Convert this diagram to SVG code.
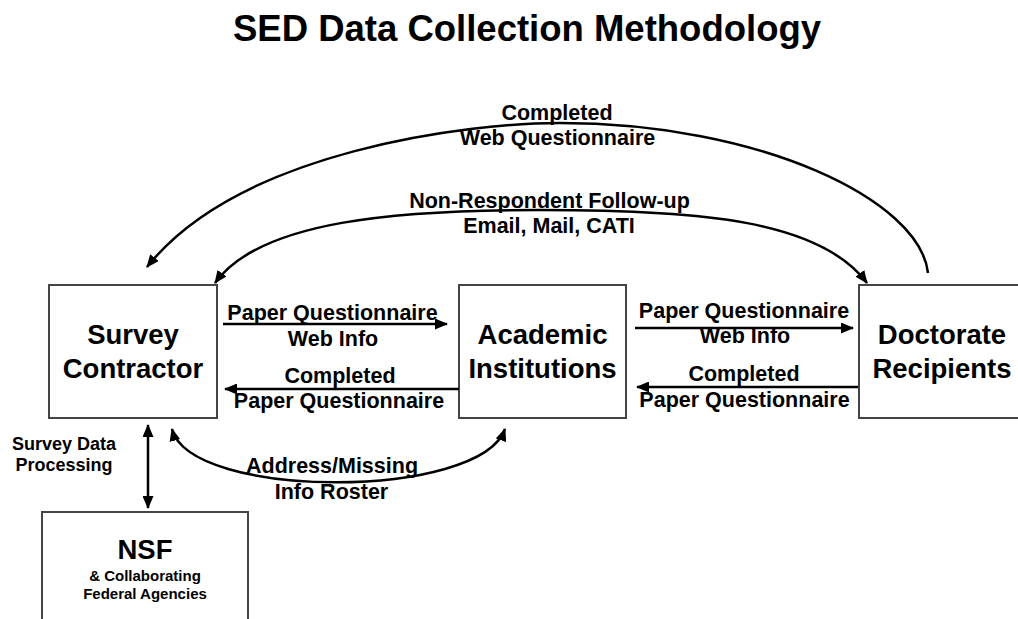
<svg xmlns="http://www.w3.org/2000/svg" width="1018" height="619" viewBox="0 0 1018 619">
  <defs>
    <marker id="arrow" markerUnits="userSpaceOnUse" markerWidth="13" markerHeight="11" refX="12" refY="5.5" orient="auto-start-reverse">
      <path d="M0,0 L13,5.5 L0,11 z" fill="#000"/>
    </marker>
  </defs>
  <style>
    text { font-family: "Liberation Sans", Arial, sans-serif; font-weight: bold; fill: #000; text-anchor: middle; }
    .title { font-size: 36.5px; }
    .node { font-size: 27.5px; }
    .lbl { font-size: 21.5px; }
    .small { font-size: 18px; }
    .tiny { font-size: 15px; }
    .box { fill: #fff; stroke: #444; stroke-width: 2; }
    .conn { fill: none; stroke: #000; stroke-width: 2.5; }
  </style>
  <rect width="1018" height="619" fill="#fff"/>

  <text class="title" x="527" y="41">SED Data Collection Methodology</text>

  <g id="survey-contractor">
    <rect class="box" x="49" y="285" width="168" height="133"/>
    <text class="node" x="133" y="344">Survey</text>
    <text class="node" x="133" y="378">Contractor</text>
  </g>

  <g id="academic-institutions">
    <rect class="box" x="459" y="285" width="167" height="133"/>
    <text class="node" x="542.5" y="344">Academic</text>
    <text class="node" x="542.5" y="378">Institutions</text>
  </g>

  <g id="doctorate-recipients">
    <rect class="box" x="859" y="285" width="170" height="133"/>
    <text class="node" x="942" y="344">Doctorate</text>
    <text class="node" x="942" y="378">Recipients</text>
  </g>

  <g id="nsf">
    <rect class="box" x="42" y="512" width="206" height="120"/>
    <text class="node" x="145" y="559">NSF</text>
    <text class="tiny" x="145" y="581">&amp; Collaborating</text>
    <text class="tiny" x="145" y="599">Federal Agencies</text>
  </g>

  <g id="connectors">
    <path class="conn" d="M928,273 C920,200 760,123 560,123 C470,123 240,150 147,267" marker-end="url(#arrow)"/>
    <path class="conn" d="M215,283 C260,220 400,210 540,210 C700,210 820,220 867,283" marker-start="url(#arrow)" marker-end="url(#arrow)"/>
    <line class="conn" x1="223" y1="324" x2="447" y2="324" marker-end="url(#arrow)"/>
    <line class="conn" x1="459" y1="389" x2="225" y2="389" marker-end="url(#arrow)"/>
    <line class="conn" x1="635" y1="328" x2="853" y2="328" marker-end="url(#arrow)"/>
    <line class="conn" x1="858" y1="387" x2="637" y2="387" marker-end="url(#arrow)"/>
    <path class="conn" d="M172,429 C190,500 480,500 505,429" marker-start="url(#arrow)" marker-end="url(#arrow)"/>
    <line class="conn" x1="148" y1="425" x2="148" y2="508" marker-start="url(#arrow)" marker-end="url(#arrow)"/>
  </g>

  <g id="connector-labels">
    <text class="lbl" x="557" y="120">Completed</text>
    <text class="lbl" x="557.5" y="145">Web Questionnaire</text>
    <text class="lbl" x="549.5" y="208">Non-Respondent Follow-up</text>
    <text class="lbl" x="549" y="233">Email, Mail, CATI</text>
    <text class="lbl" x="332.5" y="320">Paper Questionnaire</text>
    <text class="lbl" x="333" y="346">Web Info</text>
    <text class="lbl" x="340" y="383">Completed</text>
    <text class="lbl" x="339" y="408">Paper Questionnaire</text>
    <text class="lbl" x="744" y="318">Paper Questionnaire</text>
    <text class="lbl" x="745" y="343">Web Info</text>
    <text class="lbl" x="744" y="381">Completed</text>
    <text class="lbl" x="744.5" y="407">Paper Questionnaire</text>
    <text class="lbl" x="332" y="473">Address/Missing</text>
    <text class="lbl" x="331.5" y="499">Info Roster</text>
    <text class="small" x="64" y="450">Survey Data</text>
    <text class="small" x="64" y="471">Processing</text>
  </g>
</svg>
